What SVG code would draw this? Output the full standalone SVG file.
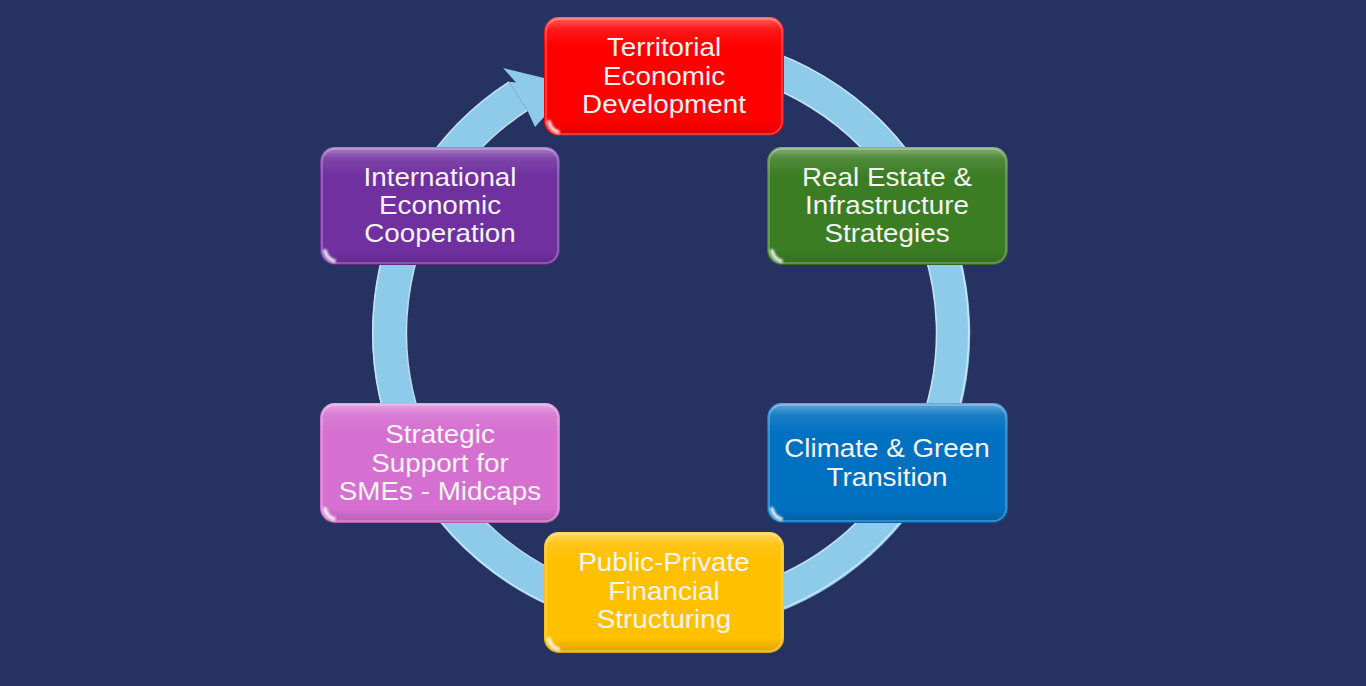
<svg xmlns="http://www.w3.org/2000/svg" width="1366" height="686" viewBox="0 0 1366 686">
<defs>
<linearGradient id="gloss" x1="0" y1="0" x2="0" y2="1">
<stop offset="0" stop-color="#ffffff" stop-opacity="0.4"/>
<stop offset="0.1" stop-color="#ffffff" stop-opacity="0.1"/>
<stop offset="0.25" stop-color="#ffffff" stop-opacity="0"/>
<stop offset="0.88" stop-color="#000000" stop-opacity="0"/>
<stop offset="1" stop-color="#000000" stop-opacity="0.15"/>
</linearGradient>
<filter id="soft" x="-50%" y="-50%" width="200%" height="200%">
<feGaussianBlur stdDeviation="1"/>
</filter>
</defs>
<style>
.box{stroke:none}
.gl{fill:url(#gloss)}
.rim{fill:none;stroke:#ffffff;stroke-opacity:0.3;stroke-width:1.5}
.shine{fill:none;stroke:#ffffff;stroke-opacity:0.85;stroke-width:4;stroke-linecap:round;filter:url(#soft)}
.lbl{font-family:"Liberation Sans",Arial,sans-serif;font-size:26px;fill:#f4f4f4;text-anchor:middle}
.ring{fill:none;stroke:#8ecbea;stroke-width:34}
.ringhl{fill:none;stroke:#cdeaf8;stroke-width:1.5;stroke-opacity:0.9}
</style>
<rect width="1366" height="686" fill="#253262"/>
<g id="connectors">
<path class="ring" d="M700.5 52.5 A282 282 0 1 1 518.2 96.1"/>
<path class="ringhl" d="M701.4 69.5 A265 265 0 1 1 527.4 110.4"/>
<path class="ringhl" d="M699.6 35.5 A298 298 0 1 1 509.0 81.8" stroke-opacity="0.5"/>
<polygon points="509,81.8 516,82.5 503,68 573,85 535,127 527.4,110.4" fill="#8ecbea"/>
</g>
<g id="node-territorial">
<rect class="box" x="544" y="17" width="240" height="119" rx="15" fill="#ff0000"/>
<rect class="gl" x="544" y="17" width="240" height="119" rx="15"/>
<rect class="rim" x="546" y="19" width="236" height="115" rx="13"/>
<path class="shine" d="M549 122 Q551 130 558 132"/>
<g transform="matrix(1.07 0 0 1 664 0)">
<text class="lbl" x="0" y="56.5">Territorial</text>
<text class="lbl" x="0" y="85">Economic</text>
<text class="lbl" x="0" y="113.5">Development</text>
</g>
</g>
<g id="node-realestate">
<rect class="box" x="767" y="147" width="241" height="118" rx="15" fill="#3b7d23"/>
<rect class="gl" x="767" y="147" width="241" height="118" rx="15"/>
<rect class="rim" x="769" y="149" width="237" height="114" rx="13"/>
<path class="shine" d="M772 251 Q774 259 781 261"/>
<g transform="matrix(1.07 0 0 1 887 0)">
<text class="lbl" x="0" y="186">Real Estate &amp;</text>
<text class="lbl" x="0" y="214">Infrastructure</text>
<text class="lbl" x="0" y="242.5">Strategies</text>
</g>
</g>
<g id="node-climate">
<rect class="box" x="767" y="403" width="241" height="120" rx="15" fill="#0070c0"/>
<rect class="gl" x="767" y="403" width="241" height="120" rx="15"/>
<rect class="rim" x="769" y="405" width="237" height="116" rx="13"/>
<path class="shine" d="M772 509 Q774 517 781 519"/>
<g transform="matrix(1.07 0 0 1 887 0)">
<text class="lbl" x="0" y="457.5">Climate &amp; Green</text>
<text class="lbl" x="0" y="486">Transition</text>
</g>
</g>
<g id="node-publicprivate">
<rect class="box" x="544" y="532" width="240" height="121" rx="15" fill="#ffc000"/>
<rect class="gl" x="544" y="532" width="240" height="121" rx="15"/>
<rect class="rim" x="546" y="534" width="236" height="117" rx="13"/>
<path class="shine" d="M549 639 Q551 647 558 649"/>
<g transform="matrix(1.07 0 0 1 664 0)">
<text class="lbl" x="0" y="571.5">Public-Private</text>
<text class="lbl" x="0" y="600">Financial</text>
<text class="lbl" x="0" y="628.5">Structuring</text>
</g>
</g>
<g id="node-smes">
<rect class="box" x="320" y="403" width="240" height="120" rx="15" fill="#d56fd0"/>
<rect class="gl" x="320" y="403" width="240" height="120" rx="15"/>
<rect class="rim" x="322" y="405" width="236" height="116" rx="13"/>
<path class="shine" d="M325 509 Q327 517 334 519"/>
<g transform="matrix(1.07 0 0 1 440 0)">
<text class="lbl" x="0" y="443.5">Strategic</text>
<text class="lbl" x="0" y="472">Support for</text>
<text class="lbl" x="0" y="500.5">SMEs - Midcaps</text>
</g>
</g>
<g id="node-international">
<rect class="box" x="320" y="147" width="240" height="118" rx="15" fill="#7030a0"/>
<rect class="gl" x="320" y="147" width="240" height="118" rx="15"/>
<rect class="rim" x="322" y="149" width="236" height="114" rx="13"/>
<path class="shine" d="M325 251 Q327 259 334 261"/>
<g transform="matrix(1.07 0 0 1 440 0)">
<text class="lbl" x="0" y="186">International</text>
<text class="lbl" x="0" y="214">Economic</text>
<text class="lbl" x="0" y="242.5">Cooperation</text>
</g>
</g>
</svg>
